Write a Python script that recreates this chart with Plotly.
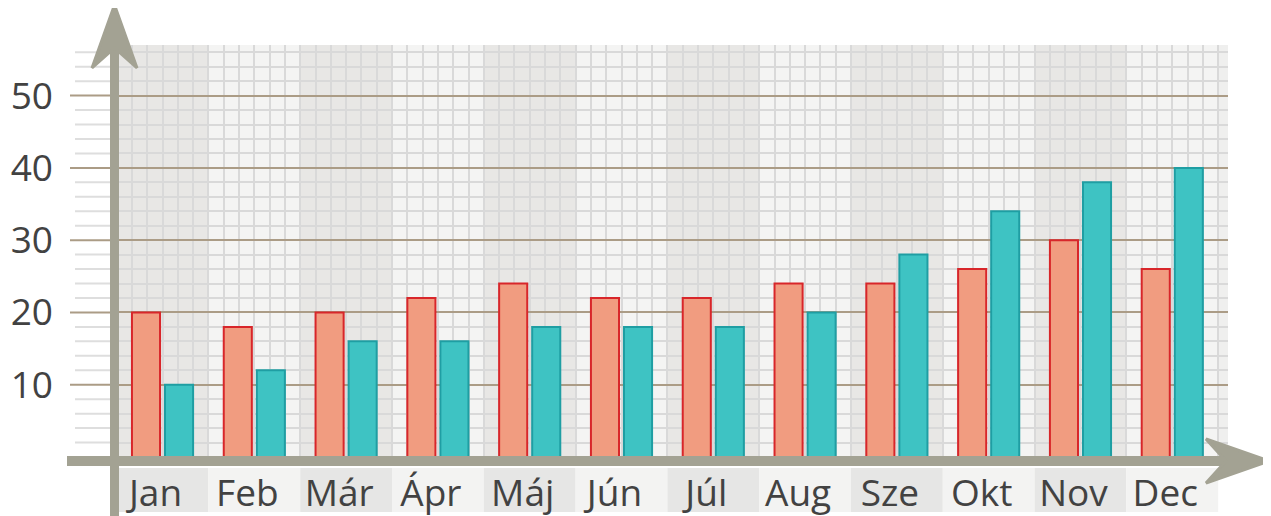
import plotly.graph_objects as go

# ---- data ----
months = ["Jan", "Feb", "Már", "Ápr", "Máj", "Jún", "Júl", "Aug", "Sze", "Okt", "Nov", "Dec"]
series_a = [20, 18, 20, 22, 24, 22, 22, 24, 24, 26, 30, 26]
series_b = [10, 12, 16, 16, 18, 18, 18, 20, 28, 34, 38, 40]
y_ticks = [10, 20, 30, 40, 50]

# ---- geometry helpers (screen pixels; the page body has an 8px margin) ----
OFF = 8
W_FIG, H_FIG = 1271 - OFF, 516 - OFF
L, T = 118 - OFF, 45 - OFF
R = W_FIG - (1228 - OFF)
B = H_FIG - (457 - OFF)
PW = W_FIG - L - R
PH = H_FIG - T - B
X0, X1 = -0.485, 11.607
Y0, Y1 = 0, 57


def px(xpix):
    return (xpix - OFF - L) / PW


def py(ypix):
    return (H_FIG - B - (ypix - OFF)) / PH


idx = list(range(len(months)))

AXIS = "#a3a293"
fig = go.Figure()
fig.add_trace(go.Bar(x=idx, y=series_a, marker=dict(color="#f19c80", line=dict(color="#d8262a", width=2)),
                     showlegend=False, hoverinfo="y"))
fig.add_trace(go.Bar(x=idx, y=series_b, marker=dict(color="#3ec3c3", line=dict(color="#1f9ea3", width=2)),
                     showlegend=False, hoverinfo="y"))

shapes = []
# alternating month column shading
for i in idx:
    shapes.append(dict(type="rect", xref="x", yref="y", x0=i - 0.5, x1=i + 0.5, y0=Y0, y1=Y1,
                       fillcolor="#e8e7e5" if i % 2 == 0 else "#f4f4f3", line=dict(width=0), layer="below"))
    # label cells
    shapes.append(dict(type="rect", xref="x", yref="paper", x0=i - 0.5, x1=i + 0.5, y0=py(512), y1=py(468),
                       fillcolor="#e6e6e5" if i % 2 == 0 else "#f3f3f2", line=dict(width=0), layer="below"))
# grid lines extending to the left of the y-axis
for v in range(2, 57, 2):
    major = v % 10 == 0
    yp = (v - Y0) / (Y1 - Y0)
    shapes.append(dict(type="line", xref="paper", yref="paper", x0=px(70 if major else 75), x1=0, y0=yp, y1=yp,
                       line=dict(color="#ab9c86" if major else "#dedede", width=2), layer="below"))
# x-axis line and arrow
shapes.append(dict(type="line", xref="paper", yref="paper", x0=px(67), x1=px(1235), y0=py(461), y1=py(461),
                   line=dict(color=AXIS, width=10)))
shapes.append(dict(type="path", xref="paper", yref="paper",
                   path=f"M {px(1269)} {py(461)} L {px(1206)} {py(439)} L {px(1226)} {py(461)} L {px(1206)} {py(483)} Z",
                   fillcolor=AXIS, line=dict(color=AXIS, width=3)))
# y-axis line and arrow
shapes.append(dict(type="line", xref="paper", yref="paper", x0=px(114.5), x1=px(114.5), y0=py(520), y1=py(30),
                   line=dict(color=AXIS, width=9)))
shapes.append(dict(type="path", xref="paper", yref="paper",
                   path=f"M {px(114.5)} {py(5)} L {px(92)} {py(68)} L {px(114.5)} {py(48)} L {px(137)} {py(68)} Z",
                   fillcolor=AXIS, line=dict(color=AXIS, width=3)))

FONT = "Open Sans"
fig.update_layout(
    width=W_FIG, height=H_FIG,
    margin=dict(l=L, r=R, t=T, b=B, autoexpand=False),
    paper_bgcolor="white", plot_bgcolor="#efefee",
    barmode="group", bargap=0.28, bargroupgap=0.15,
    shapes=shapes,
    font=dict(family=FONT, color="#404040"),
    xaxis=dict(range=[X0, X1], tickmode="array", tickvals=idx, ticktext=months, showgrid=False,
               zeroline=False, showline=False, ticks="", ticklabelstandoff=11, ticklabelshift=-7,
               automargin=False,
               tickfont=dict(size=37, family=FONT, color="#424242"),
               minor=dict(tickmode="linear", tick0=-0.5, dtick=1 / 6, showgrid=True, gridcolor="#d9d9d9",
                          gridwidth=2, ticks="")),
    yaxis=dict(range=[Y0, Y1], tickmode="array", tickvals=y_ticks, showgrid=True, gridcolor="#ab9c86",
               gridwidth=2, zeroline=False, showline=False, ticks="", ticklabelstandoff=64,
               automargin=False,
               tickfont=dict(size=37, family=FONT, color="#424242"),
               minor=dict(tickmode="linear", tick0=0, dtick=2, showgrid=True, gridcolor="#d9d9d9", gridwidth=2,
                          ticks="")),
)

fig.write_html("out.html")
